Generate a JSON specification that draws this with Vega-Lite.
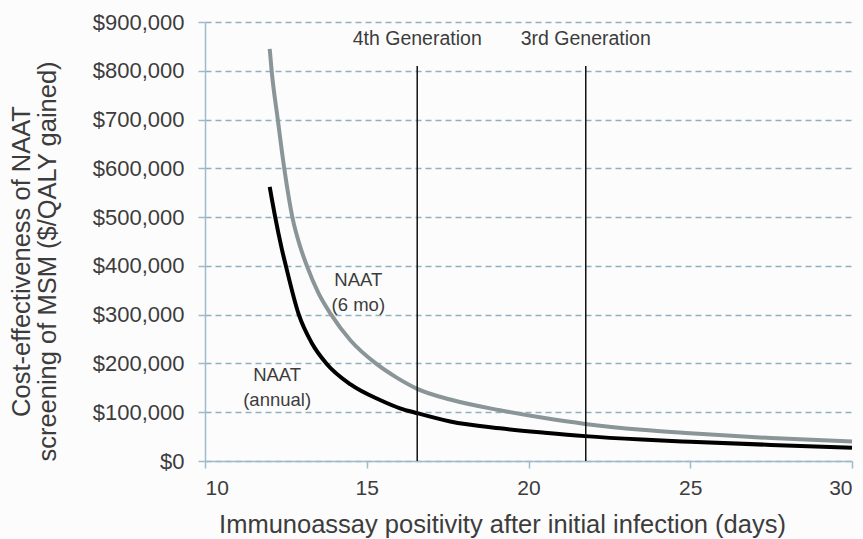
{
  "$schema": "https://vega.github.io/schema/vega-lite/v6.json",
  "autosize": "none",
  "width": 647,
  "height": 439,
  "padding": {"left": 205, "top": 22, "right": 11, "bottom": 78},
  "background": "#fcfcfd",
  "config": {
    "view": {"stroke": null},
    "font": "Liberation Sans",
    "axis": {
      "labelFont": "Liberation Sans",
      "titleFont": "Liberation Sans",
      "labelColor": "#3c3c3c",
      "titleColor": "#3c3c3c",
      "labelFontSize": 21,
      "titleFontSize": 25.5,
      "titleFontWeight": "normal",
      "domainColor": "#9dbccb",
      "domainWidth": 1.5,
      "tickColor": "#9dbccb",
      "tickWidth": 1.5,
      "tickSize": 7,
      "gridColor": "#8eb0c0",
      "gridDash": [6, 4],
      "gridWidth": 1.3
    }
  },
  "datasets": {
    "curves": [
      {"days": 12.0, "cost": 845000, "series": "NAAT (6 mo)"},
      {"days": 12.06, "cost": 800000, "series": "NAAT (6 mo)"},
      {"days": 12.25, "cost": 700000, "series": "NAAT (6 mo)"},
      {"days": 12.45, "cost": 600000, "series": "NAAT (6 mo)"},
      {"days": 12.7, "cost": 500000, "series": "NAAT (6 mo)"},
      {"days": 12.94, "cost": 440000, "series": "NAAT (6 mo)"},
      {"days": 13.15, "cost": 400000, "series": "NAAT (6 mo)"},
      {"days": 13.5, "cost": 345000, "series": "NAAT (6 mo)"},
      {"days": 13.9, "cost": 300000, "series": "NAAT (6 mo)"},
      {"days": 14.5, "cost": 247000, "series": "NAAT (6 mo)"},
      {"days": 15.28, "cost": 200000, "series": "NAAT (6 mo)"},
      {"days": 15.9, "cost": 172000, "series": "NAAT (6 mo)"},
      {"days": 16.56, "cost": 148000, "series": "NAAT (6 mo)"},
      {"days": 17.58, "cost": 126000, "series": "NAAT (6 mo)"},
      {"days": 19.12, "cost": 104000, "series": "NAAT (6 mo)"},
      {"days": 20.5, "cost": 88000, "series": "NAAT (6 mo)"},
      {"days": 21.75, "cost": 76000, "series": "NAAT (6 mo)"},
      {"days": 23.5, "cost": 64000, "series": "NAAT (6 mo)"},
      {"days": 25, "cost": 57000, "series": "NAAT (6 mo)"},
      {"days": 27.5, "cost": 47000, "series": "NAAT (6 mo)"},
      {"days": 30, "cost": 40000, "series": "NAAT (6 mo)"},
      {"days": 12.0, "cost": 562000, "series": "NAAT (annual)"},
      {"days": 12.17, "cost": 500000, "series": "NAAT (annual)"},
      {"days": 12.37, "cost": 436000, "series": "NAAT (annual)"},
      {"days": 12.5, "cost": 400000, "series": "NAAT (annual)"},
      {"days": 12.9, "cost": 300000, "series": "NAAT (annual)"},
      {"days": 13.3, "cost": 242000, "series": "NAAT (annual)"},
      {"days": 13.75, "cost": 200000, "series": "NAAT (annual)"},
      {"days": 14.5, "cost": 157000, "series": "NAAT (annual)"},
      {"days": 15.41, "cost": 125000, "series": "NAAT (annual)"},
      {"days": 16.03, "cost": 108000, "series": "NAAT (annual)"},
      {"days": 16.56, "cost": 98000, "series": "NAAT (annual)"},
      {"days": 17.58, "cost": 81000, "series": "NAAT (annual)"},
      {"days": 19.12, "cost": 67000, "series": "NAAT (annual)"},
      {"days": 20.5, "cost": 58000, "series": "NAAT (annual)"},
      {"days": 21.75, "cost": 51000, "series": "NAAT (annual)"},
      {"days": 23.5, "cost": 44000, "series": "NAAT (annual)"},
      {"days": 25, "cost": 39500, "series": "NAAT (annual)"},
      {"days": 27.5, "cost": 33000, "series": "NAAT (annual)"},
      {"days": 30, "cost": 27000, "series": "NAAT (annual)"}
    ],
    "gens": [
      {"days": 16.56, "low": 0, "high": 810000, "label": "4th Generation", "labelCost": 865000},
      {"days": 21.77, "low": 0, "high": 810000, "label": "3rd Generation", "labelCost": 865000}
    ],
    "notes": [
      {"days": 14.74, "cost": 371000, "text": "NAAT"},
      {"days": 14.74, "cost": 320000, "text": "(6 mo)"},
      {"days": 12.23, "cost": 176000, "text": "NAAT"},
      {"days": 12.23, "cost": 125000, "text": "(annual)"}
    ]
  },
  "layer": [
    {
      "data": {"name": "curves"},
      "mark": {"type": "line", "strokeWidth": 4, "interpolate": "monotone"},
      "encoding": {
        "x": {
          "field": "days", "type": "quantitative",
          "scale": {"domain": [10, 30], "nice": false, "zero": false},
          "axis": {
            "values": [10, 15, 20, 25, 30],
            "grid": false,
            "labelPadding": 9,
            "title": "Immunoassay positivity after initial infection (days)",
            "titleX": 297,
            "titleY": 71,
            "titleBaseline": "alphabetic"
          }
        },
        "y": {
          "field": "cost", "type": "quantitative",
          "scale": {"domain": [0, 900000], "nice": false},
          "axis": {
            "values": [0, 100000, 200000, 300000, 400000, 500000, 600000, 700000, 800000, 900000],
            "format": "$,.0f",
            "labelFontSize": 22,
            "grid": true,
            "labelPadding": 14,
            "title": ["Cost-effectiveness of NAAT", "screening of MSM ($/QALY gained)"],
            "titleLineHeight": 26,
            "titleAngle": -90,
            "titleAlign": "center",
            "titleBaseline": "alphabetic",
            "titleX": -176,
            "titleY": 239
          }
        },
        "color": {
          "field": "series", "type": "nominal",
          "scale": {"domain": ["NAAT (6 mo)", "NAAT (annual)"], "range": ["#8a9598", "#000000"]},
          "legend": null
        },
        "order": {"field": "days", "type": "quantitative"}
      }
    },
    {
      "data": {"name": "gens"},
      "mark": {"type": "rule", "color": "#111111", "strokeWidth": 1.5},
      "encoding": {
        "x": {"field": "days", "type": "quantitative"},
        "y": {"field": "low", "type": "quantitative"},
        "y2": {"field": "high"}
      }
    },
    {
      "data": {"name": "gens"},
      "mark": {"type": "text", "fontSize": 19.5, "color": "#3c3c3c", "align": "center", "baseline": "middle", "font": "Liberation Sans"},
      "encoding": {
        "x": {"field": "days", "type": "quantitative"},
        "y": {"field": "labelCost", "type": "quantitative"},
        "text": {"field": "label"}
      }
    },
    {
      "data": {"name": "notes"},
      "mark": {"type": "text", "fontSize": 18.5, "color": "#3c3c3c", "align": "center", "baseline": "middle", "font": "Liberation Sans"},
      "encoding": {
        "x": {"field": "days", "type": "quantitative"},
        "y": {"field": "cost", "type": "quantitative"},
        "text": {"field": "text"}
      }
    }
  ]
}
